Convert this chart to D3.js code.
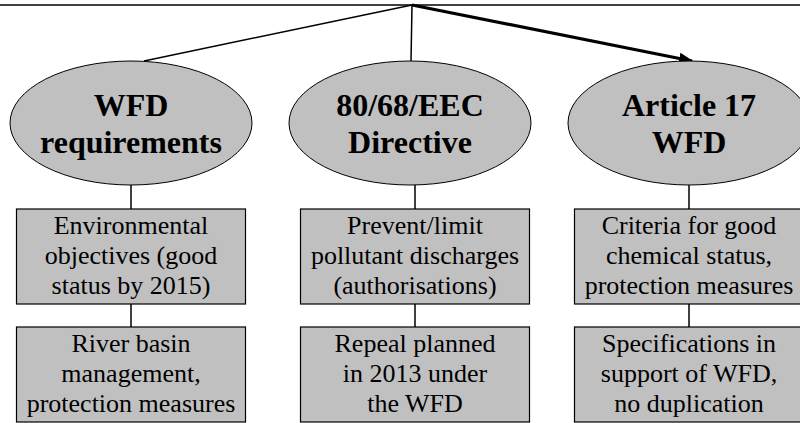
<!DOCTYPE html>
<html>
<head>
<meta charset="utf-8">
<script src="https://cdn.jsdelivr.net/npm/d3@7/dist/d3.min.js"></script>
</head>
<body style="margin:0">
<svg id="chart" width="800" height="423"></svg>
<script>
// column headings (ellipses)
var heads = [
  ["WFD", "requirements"],
  ["80/68/EEC", "Directive"],
  ["Article 17", "WFD"]
];
// first row of boxes
var row1 = [
  ["Environmental", "objectives (good", "status by 2015)"],
  ["Prevent/limit", "pollutant discharges", "(authorisations)"],
  ["Criteria for good", "chemical status,", "protection measures"]
];
// second row of boxes
var row2 = [
  ["River basin", "management,", "protection measures"],
  ["Repeal planned", "in 2013 under", "the WFD"],
  ["Specifications in", "support of WFD,", "no duplication"]
];
var arrowTo = 2; // the heading that gets the thick arrow

var svg = d3.select("#chart");
var cols = d3.range(heads.length);

// column centres
var x = d3.scalePoint().domain(cols).range([131, 689]);
// vertical layout
var y = d3.scaleOrdinal()
  .domain(["top", "ellTop", "ellMid", "ellBot", "box1", "box2"])
  .range([5, 61, 123, 185, 209, 327]);
var rx = 121, ry = 62, boxW = 229, boxH = 95, gray = "#c0c0c0";
var apex = 412;

svg.append("defs").append("marker")
  .attr("id", "arr")
  .attr("viewBox", "0 0 10 10")
  .attr("refX", 9).attr("refY", 5)
  .attr("markerWidth", 4.5).attr("markerHeight", 4.5)
  .attr("orient", "auto")
  .append("path").attr("d", "M0,1 L10,5 L0,9 z").attr("fill", "#000");

// top rule
svg.append("line")
  .attr("x1", 0).attr("x2", 800)
  .attr("y1", y("top")).attr("y2", y("top"))
  .attr("stroke", "#000").attr("stroke-width", 1.3);

// branches from apex
svg.selectAll("line.branch").data(cols).enter().append("line")
  .attr("class", "branch")
  .attr("x1", apex).attr("y1", y("top"))
  .attr("x2", function (d) { return d === 1 ? 411 : d === 0 ? x(d) + 13 : x(d) + 3; })
  .attr("y2", y("ellTop"))
  .attr("stroke", "#000")
  .attr("stroke-width", function (d) { return d === arrowTo ? 3.2 : 1.5; })
  .attr("marker-end", function (d) { return d === arrowTo ? "url(#arr)" : null; });

// vertical connectors
cols.forEach(function (c) {
  var cx = x(c) + (c === 1 ? 5 : 0);
  [[y("ellBot"), y("box1")], [y("box1") + boxH, y("box2")]].forEach(function (s) {
    svg.append("line")
      .attr("x1", cx).attr("x2", cx)
      .attr("y1", s[0]).attr("y2", s[1])
      .attr("stroke", "#000").attr("stroke-width", 1.5);
  });
});

// ellipses
svg.selectAll("ellipse").data(heads).enter().append("ellipse")
  .attr("cx", function (d, i) { return x(i); })
  .attr("cy", y("ellMid"))
  .attr("rx", rx).attr("ry", ry)
  .attr("fill", gray).attr("stroke", "#000").attr("stroke-width", 1);

var headLines = [];
heads.forEach(function (h, c) { h.forEach(function (t, k) { headLines.push({ c: c, k: k, t: t }); }); });
svg.selectAll("text.head").data(headLines).enter().append("text")
  .attr("class", "head")
  .attr("x", function (d) { return x(d.c); })
  .attr("y", function (d) { return y("ellMid") - 7 + d.k * 37; })
  .attr("text-anchor", "middle")
  .attr("font-family", "Liberation Serif")
  .attr("font-size", 32).attr("font-weight", "bold")
  .text(function (d) { return d.t; });

// boxes
function boxes(data, top, cls) {
  svg.selectAll("rect." + cls).data(data).enter().append("rect")
    .attr("class", cls)
    .attr("x", function (d, i) { return x(i) - boxW / 2 + (i === 1 ? 5 : 0); })
    .attr("y", top)
    .attr("width", boxW).attr("height", boxH)
    .attr("fill", gray).attr("stroke", "#000").attr("stroke-width", 1.2);
  var lines = [];
  data.forEach(function (b, c) { b.forEach(function (t, k) { lines.push({ c: c, k: k, t: t }); }); });
  svg.selectAll("text." + cls).data(lines).enter().append("text")
    .attr("class", cls)
    .attr("x", function (d) { return x(d.c) + (d.c === 1 ? 5 : 0); })
    .attr("y", function (d) { return top + 25 + d.k * 30; })
    .attr("text-anchor", "middle")
    .attr("font-family", "Liberation Serif")
    .attr("font-size", 26)
    .text(function (d) { return d.t; });
}
boxes(row1, y("box1"), "b1");
boxes(row2, y("box2"), "b2");
</script>
</body>
</html>
